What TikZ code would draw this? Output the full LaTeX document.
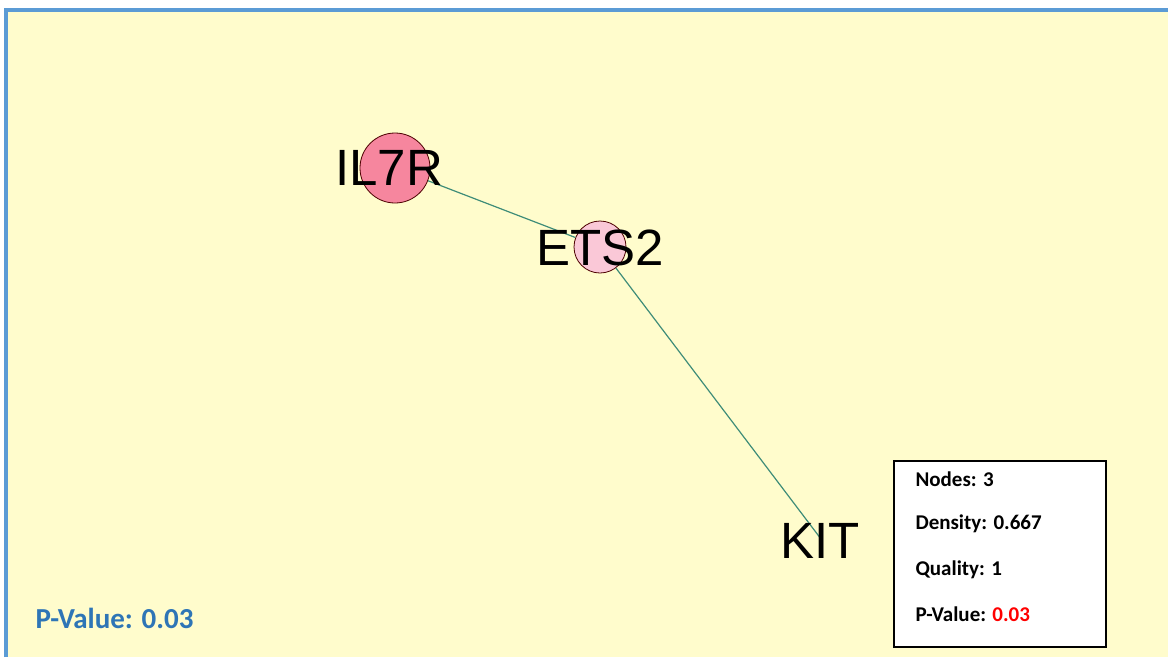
\documentclass[tikz,border=0pt]{standalone}
\usepackage{fontspec}
\setmainfont{Liberation Sans}
\newfontfamily\calibri{Carlito}
\usetikzlibrary{positioning}

\definecolor{bgyellow}{RGB}{255,252,204}
\definecolor{frameblue}{RGB}{91,155,213}
\definecolor{edgeteal}{RGB}{62,140,120}
\definecolor{pvblue}{RGB}{46,117,182}
\definecolor{gene1}{RGB}{246,134,158}
\definecolor{gene2}{RGB}{250,200,215}

\begin{document}
\begin{tikzpicture}[x=1pt, y=-1pt,
    gene/.style={circle, draw=black!70!red, line width=0.8pt, inner sep=0pt},
    genelabel/.style={font=\fontsize{51}{51}\selectfont, text=black},
    link/.style={draw=edgeteal, line width=1.2pt},
    stat/.style={anchor=west, font=\calibri\bfseries\fontsize{21}{21}\selectfont}]
    \useasboundingbox (0,0) rectangle (1168,657);
    \fill[bgyellow] (6,10) rectangle (1168,657);
    \draw[frameblue, line width=4pt] (6,657) -- (6,10) -- (1168,10);

    \node[gene, fill=gene1, minimum size=70pt] (il7r) at (395,168) {};
    \node[gene, fill=gene2, minimum size=52pt] (ets2) at (600,247) {};
    \coordinate (kit) at (821,539);
    \path[link]
    (il7r) edge (ets2)
    (ets2) edge (kit);
    \node[genelabel] (il7r_t) at (389,168) {IL7R};
    \node[genelabel] (ets2_t) at (600,248) {ETS2};
    \node[genelabel] (kit_t) at (820,541) {KIT};

    \draw[black, line width=2pt, fill=white] (894,461) rectangle (1106,647);
    \node[stat] (s_nodes) at (912,479) {Nodes: 3};
    \node[stat] (s_dens) at (912,524) {Density: 0.667};
    \node[stat] (s_qual) at (912,570) {Quality: 1};
    \node[stat] (s_pval) at (912,614) {P-Value: \textcolor{red}{0.03}};

    \node[anchor=west, text=pvblue, font=\calibri\bfseries\fontsize{29}{29}\selectfont] (pval) at (32,618) {P-Value: 0.03};
\end{tikzpicture}
\end{document}
